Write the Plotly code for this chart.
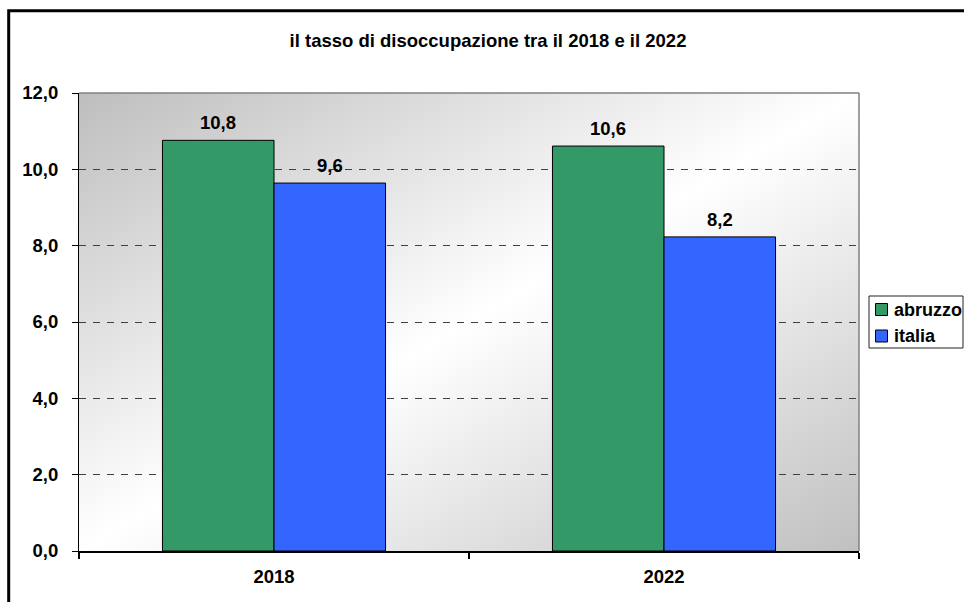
import base64
import plotly.graph_objects as go

# ---- data ----
categories = ["2018", "2022"]
abruzzo = [10.76, 10.61]
italia = [9.64, 8.23]
series_names = ["abruzzo", "italia"]
y_tick_vals = [0, 2, 4, 6, 8, 10, 12]
title_text = "il tasso di disoccupazione tra il 2018 e il 2022"

# ---- style ----
W, H = 964, 602
L, R, T, B = 79, 105, 93, 51
PW, PH = W - L - R, H - T - B
FONT = "Liberation Sans, Arial, sans-serif"
FS = 18.5
GREEN = "#339966"
BLUE = "#3366FF"


def px(x):
    return (x - L) / PW


def py(y):
    return (H - B - y) / PH


fig = go.Figure()
fig.add_trace(go.Bar(name=series_names[0], x=categories, y=abruzzo,
                     marker=dict(color=GREEN, line=dict(color="black", width=1)),
                     showlegend=False))
fig.add_trace(go.Bar(name=series_names[1], x=categories, y=italia,
                     marker=dict(color=BLUE, line=dict(color="black", width=1)),
                     showlegend=False))

bargap = 0.428
bar_px = (PW / len(categories)) * (1 - bargap) / 2
annos = []
for vals, sgn in ((abruzzo, -1), (italia, 1)):
    for i, v in enumerate(vals):
        annos.append(dict(x=i, y=v, xref="x", yref="y", text=f"{v:.1f}".replace(".", ","),
                          showarrow=False, yanchor="bottom", xshift=sgn * bar_px / 2, yshift=5,
                          font=dict(family=FONT, size=FS, color="black", weight="bold")))

# custom legend text
annos.append(dict(x=px(891.5), y=py(310), xref="paper", yref="paper", text=series_names[0],
                  showarrow=False, xanchor="left", yanchor="middle",
                  font=dict(family=FONT, size=18, color="black", weight="bold")))
annos.append(dict(x=px(891.5), y=py(336), xref="paper", yref="paper", text=series_names[1],
                  showarrow=False, xanchor="left", yanchor="middle",
                  font=dict(family=FONT, size=18, color="black", weight="bold")))

shapes = [
    # outer chart border
    dict(type="rect", xref="paper", yref="paper", x0=px(8.7), y0=py(10.7), x1=px(975), y1=py(615),
         line=dict(color="black", width=3), fillcolor="rgba(0,0,0,0)", layer="above"),
    # plot area top/right border
    dict(type="line", xref="paper", yref="paper", x0=0, x1=1, y0=1, y1=1,
         line=dict(color="#808080", width=1.5), layer="above"),
    dict(type="line", xref="paper", yref="paper", x0=1, x1=1, y0=0, y1=1,
         line=dict(color="#808080", width=1.5), layer="above"),
    # legend box
    dict(type="rect", xref="paper", yref="paper", x0=px(869), y0=py(296), x1=px(963), y1=py(348),
         line=dict(color="#222222", width=1), fillcolor="white", layer="above"),
    dict(type="rect", xref="paper", yref="paper", x0=px(875.5), y0=py(303.5), x1=px(887.5), y1=py(315.5),
         line=dict(color="black", width=1), fillcolor=GREEN, layer="above"),
    dict(type="rect", xref="paper", yref="paper", x0=px(875.5), y0=py(330), x1=px(887.5), y1=py(342),
         line=dict(color="black", width=1), fillcolor=BLUE, layer="above"),
]

svg = ('<svg xmlns="http://www.w3.org/2000/svg" width="100" height="100" viewBox="0 0 100 100" '
       'preserveAspectRatio="none"><defs><linearGradient id="g" x1="0" y1="0" x2="1" y2="1">'
       '<stop offset="0" stop-color="#bebebe"/><stop offset="0.5" stop-color="#ffffff"/>'
       '<stop offset="1" stop-color="#c0c0c0"/></linearGradient></defs>'
       '<rect width="100" height="100" fill="url(#g)"/></svg>')
src = "data:image/svg+xml;base64," + base64.b64encode(svg.encode()).decode()

fig.update_layout(
    width=W, height=H,
    margin=dict(l=L, r=R, t=T, b=B, pad=0, autoexpand=False),
    paper_bgcolor="white",
    plot_bgcolor="rgba(0,0,0,0)",
    separators=",.",
    barmode="group", bargap=bargap, bargroupgap=0,
    font=dict(family=FONT, size=FS, color="black"),
    title=dict(text=title_text, x=488 / W, xref="container", xanchor="center",
               y=1 - 41 / H, yref="container", yanchor="middle",
               font=dict(family=FONT, size=FS, color="black", weight="bold")),
    images=[dict(source=src, xref="paper", yref="paper", x=0, y=1, sizex=1, sizey=1,
                 sizing="stretch", layer="below", xanchor="left", yanchor="top")],
    annotations=annos,
    shapes=shapes,
    showlegend=False,
)
fig.update_xaxes(type="category", range=[-0.5, len(categories) - 0.5], showgrid=False,
                 showline=True, linecolor="black", linewidth=1.5,
                 ticks="outside", tickson="boundaries", ticklen=6, tickcolor="black", tickwidth=1.5,
                 ticklabelstandoff=8, tickangle=0,
                 tickfont=dict(family=FONT, size=FS, color="black", weight="bold"))
fig.update_yaxes(range=[0, 12], tickvals=y_tick_vals, tickformat=".1f",
                 showgrid=True, gridcolor="#404040", griddash="7px,7px", gridwidth=1,
                 zeroline=False, showline=True, linecolor="black", linewidth=1,
                 ticks="outside", ticklen=6, tickcolor="black", tickwidth=1,
                 ticklabelstandoff=10,
                 tickfont=dict(family=FONT, size=FS, color="black", weight="bold"))

fig.write_html("out.html", config={"displayModeBar": False},
               post_script="document.body.style.margin='0px';document.body.style.overflow='hidden';")
